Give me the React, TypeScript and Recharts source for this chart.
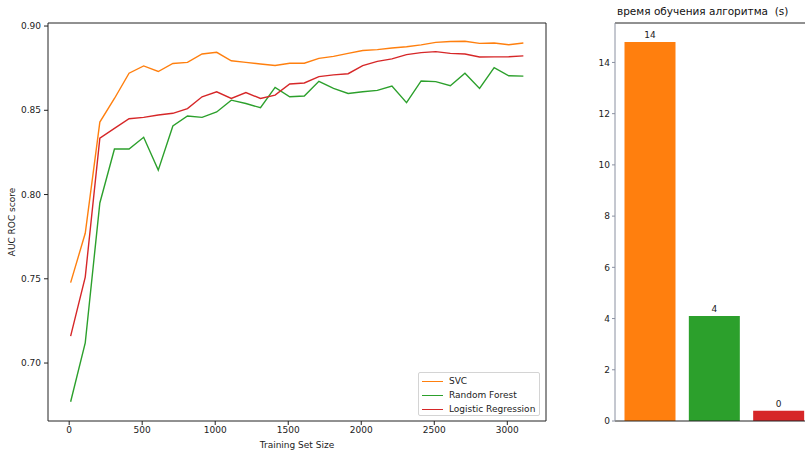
import React from "react";
import {
  LineChart,
  Line,
  XAxis,
  YAxis,
  ReferenceLine,
  BarChart,
  Bar,
  Cell,
  LabelList,
} from "recharts";

// training set sizes (x)
const sizes = [
  10, 110, 210, 310, 410, 510, 610, 710, 810, 910, 1010, 1110, 1210, 1310,
  1410, 1510, 1610, 1710, 1810, 1910, 2010, 2110, 2210, 2310, 2410, 2510,
  2610, 2710, 2810, 2910, 3010, 3110,
];

const svc = [
  0.7477, 0.777, 0.843, 0.857, 0.872, 0.8763, 0.873, 0.8778, 0.8784, 0.8834,
  0.8844, 0.8794, 0.8784, 0.8775, 0.8766, 0.8779, 0.8779, 0.8808, 0.882,
  0.8838, 0.8855, 0.886, 0.887, 0.8877, 0.8888, 0.8903, 0.8908, 0.891, 0.8897,
  0.8899, 0.8889, 0.8899,
];

const randomForest = [
  0.677, 0.712, 0.795, 0.827, 0.827, 0.834, 0.8145, 0.8407, 0.8466, 0.8458,
  0.849, 0.856, 0.854, 0.8515, 0.8636, 0.858, 0.8585, 0.8672, 0.863, 0.86,
  0.861, 0.8618, 0.8644, 0.8545, 0.8674, 0.867, 0.8646, 0.872, 0.863, 0.8753,
  0.8705, 0.8703,
];

const logReg = [
  0.716, 0.751, 0.8335, 0.8393, 0.845, 0.8458, 0.8472, 0.8482, 0.851, 0.858,
  0.861, 0.857, 0.8605, 0.857, 0.859, 0.8656, 0.8662, 0.87, 0.871, 0.8717,
  0.8765, 0.879, 0.8805, 0.883, 0.8842, 0.8848, 0.8838, 0.8834, 0.8816,
  0.8817, 0.8818, 0.8823,
];

const xTicks = [0, 500, 1000, 1500, 2000, 2500, 3000];
const yTicks = [0.7, 0.75, 0.8, 0.85, 0.9];

const seriesNames = ["SVC", "Random Forest", "Logistic Regression"];
const seriesColors = ["#ff7f0e", "#2ca02c", "#d62728"];

// training time per model, seconds
const models = ["SVC", "Random Forest", "Logistic Regression"];
const trainTimes = [14.8, 4.1, 0.4];
const timeTicks = [0, 2, 4, 6, 8, 10, 12, 14];

const X_DOMAIN: [number, number] = [-145, 3265];
const Y_DOMAIN: [number, number] = [0.6656, 0.9018];
const T_MAX = 15.54;

const FONT = "'DejaVu Sans', sans-serif";
const INK = "#222";

const lineData = sizes.map((s, i) => ({
  size: s,
  svc: svc[i],
  rf: randomForest[i],
  lr: logReg[i],
}));
const seriesKeys = ["svc", "rf", "lr"];

const barData = models.map((m, i) => ({ name: m, time: trainTimes[i] }));

const tickStyle = { fontSize: 9, fill: INK, fontFamily: FONT };

export default function App() {
  return (
    <div
      style={{
        position: "absolute",
        left: 0,
        top: 0,
        width: 805,
        height: 451,
        overflow: "hidden",
        background: "#fff",
        fontFamily: FONT,
      }}
    >
      <div style={{ position: "absolute", left: 0, top: 0 }}>
        <LineChart
          width={560}
          height={451}
          data={lineData}
          margin={{ top: 23, right: 14, bottom: 0, left: 0 }}
        >
          <XAxis
            dataKey="size"
            type="number"
            domain={X_DOMAIN}
            ticks={xTicks}
            allowDataOverflow
            height={30}
            tick={tickStyle}
            tickSize={4}
            tickMargin={2}
            stroke={INK}
            label={{
              value: "Training Set Size",
              position: "insideBottom",
              offset: 3,
              style: { fontSize: 9, fill: INK, fontFamily: FONT },
            }}
          />
          <YAxis
            type="number"
            domain={Y_DOMAIN}
            ticks={yTicks}
            allowDataOverflow
            width={48}
            tick={tickStyle}
            tickSize={4}
            tickMargin={3}
            stroke={INK}
            tickFormatter={(v: number) => v.toFixed(2)}
            label={{
              value: "AUC ROC score",
              angle: -90,
              position: "insideLeft",
              offset: 12,
              style: {
                fontSize: 9,
                fill: INK,
                fontFamily: FONT,
                textAnchor: "middle",
              },
            }}
          />
          <ReferenceLine y={Y_DOMAIN[1]} stroke={INK} />
          <ReferenceLine x={X_DOMAIN[1]} stroke={INK} />
          {seriesKeys.map((k, i) => (
            <Line
              key={k}
              dataKey={k}
              name={seriesNames[i]}
              stroke={seriesColors[i]}
              strokeWidth={1.4}
              dot={false}
              type="linear"
              isAnimationActive={false}
            />
          ))}
        </LineChart>
      </div>

      {/* legend box, lower right of the line chart */}
      <div
        style={{
          position: "absolute",
          left: 418,
          top: 372,
          width: 122,
          height: 44,
          border: "1px solid #d4d4d4",
          borderRadius: 2,
          background: "rgba(255,255,255,0.8)",
          paddingTop: 1,
          boxSizing: "border-box",
        }}
      >
        {seriesNames.map((n, i) => (
          <div
            key={n}
            style={{
              display: "flex",
              alignItems: "center",
              height: 14,
              fontSize: 9,
              color: INK,
            }}
          >
            <span
              style={{
                display: "inline-block",
                width: 21,
                height: 0,
                borderTop: `1.5px solid ${seriesColors[i]}`,
                marginLeft: 3,
                marginRight: 6,
              }}
            />
            {n}
          </div>
        ))}
      </div>

      <div
        style={{
          position: "absolute",
          left: 617,
          top: 5,
          fontSize: 10.5,
          color: "#111",
          whiteSpace: "pre",
        }}
      >
        {"время обучения алгоритма  (s)"}
      </div>

      <div style={{ position: "absolute", left: 560, top: 0 }}>
        <BarChart
          width={253}
          height={451}
          data={barData}
          margin={{ top: 23, right: 0, bottom: 0, left: 0 }}
        >
          <XAxis
            dataKey="name"
            type="category"
            padding={{ left: 2.5, right: 2.5 }}
            height={30}
            tick={false}
            tickLine={false}
            stroke={INK}
          />
          <YAxis
            type="number"
            domain={[0, T_MAX]}
            ticks={timeTicks}
            allowDataOverflow
            width={55}
            tick={tickStyle}
            tickSize={3}
            tickMargin={2}
            stroke="#8a90a0"
          />
          <ReferenceLine y={T_MAX} stroke={INK} />
          <Bar dataKey="time" barSize={51} isAnimationActive={false}>
            {barData.map((_, i) => (
              <Cell key={i} fill={seriesColors[i]} />
            ))}
            <LabelList
              dataKey="time"
              position="top"
              offset={4}
              formatter={(v: number) => String(Math.floor(v))}
              style={{ fontSize: 9, fill: INK, fontFamily: FONT }}
            />
          </Bar>
        </BarChart>
      </div>
    </div>
  );
}
